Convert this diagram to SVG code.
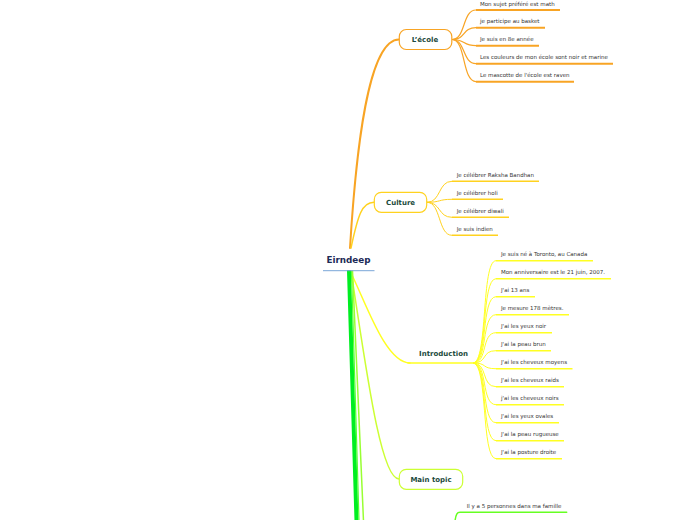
<svg xmlns="http://www.w3.org/2000/svg" width="696" height="520" viewBox="0 0 696 520">
<style>
.t{font-family:"DejaVu Sans",Verdana,sans-serif;font-size:5.5px;fill:#333}
.n{font-family:"DejaVu Sans",Verdana,sans-serif;font-size:7px;font-weight:bold;fill:#1b4a3c;text-anchor:middle}
.r{font-family:"DejaVu Sans",Verdana,sans-serif;font-size:8.8px;font-weight:bold;fill:#1d2b57;text-anchor:middle}
.c{fill:none;stroke-linecap:round}
.or{stroke:#f8a424}
.go{stroke:#ffd21f}
.ye{stroke:#ffff22}
.gr{stroke:#66ff22}
.box{fill:#fff;stroke-width:1.2}
</style>
<rect width="696" height="520" fill="#fff"/>
<g id="connectors">
<path class="c or" d="M350,248 C356,150 368,39.5 399,39.5" stroke-width="2"/>
<path class="c go" d="M351,248 C358,215 362,202.3 374,202.3" stroke-width="1.5"/>
<path class="c ye" d="M350,271 C365,300 385,363 410,363" stroke-width="1.5"/>
<path class="c" stroke="#ccff33" d="M351,271 C365,360 380,479 399,479" stroke-width="1.5"/>
<path class="c" stroke="#00ee22" d="M349,271 L356.5,521" stroke-width="4"/>
<path class="c" stroke="#55ff33" d="M351.5,271 L359,521" stroke-width="1.2"/>
<path class="c" stroke="#99ff33" d="M352.5,271 C356,360 360,440 363.5,521" stroke-width="1.5"/>
<path class="c gr" d="M455,521 C456,514 457,512.3 460,512.3 L566.7,512.3" stroke-width="1.5"/>
<!-- L'école children -->
<g class="or" fill="none" stroke-width="1.2">
<path d="M452,39.5 C466,39.5 462,10 476,10"/>
<path d="M452,39.5 C466,39.5 462,27.7 476,27.7"/>
<path d="M452,39.5 C466,39.5 462,45.7 476,45.7"/>
<path d="M452,39.5 C466,39.5 462,63.7 476,63.7"/>
<path d="M452,39.5 C466,39.5 462,81.7 476,81.7"/>
</g>
<g class="or" fill="none" stroke-width="2">
<path d="M476,10 L560,10"/>
<path d="M476,27.7 L545,27.7"/>
<path d="M476,45.7 L539,45.7"/>
<path d="M476,63.7 L613,63.7"/>
<path d="M476,81.7 L574,81.7"/>
</g>
<!-- Culture children -->
<g class="go" fill="none" stroke-width="1">
<path d="M427,202.3 C441,202.3 438,181.3 452,181.3"/>
<path d="M427,202.3 C441,202.3 438,199.3 452,199.3"/>
<path d="M427,202.3 C441,202.3 438,217.3 452,217.3"/>
<path d="M427,202.3 C441,202.3 438,235.3 452,235.3"/>
</g>
<g class="go" fill="none" stroke-width="1.6">
<path d="M452,181.3 L539,181.3"/>
<path d="M452,199.3 L503,199.3"/>
<path d="M452,217.3 L509,217.3"/>
<path d="M452,235.3 L498,235.3"/>
</g>
<!-- Introduction -->
<path class="c ye" d="M408,363 L473,363" stroke-width="1.6"/>
<g class="ye" fill="none" stroke-width="1">
<path d="M473,363 C488,363 481,260.7 496,260.7"/>
<path d="M473,363 C488,363 481,278.7 496,278.7"/>
<path d="M473,363 C488,363 481,296.7 496,296.7"/>
<path d="M473,363 C488,363 481,314.7 496,314.7"/>
<path d="M473,363 C488,363 481,332.7 496,332.7"/>
<path d="M473,363 C488,363 481,350.7 496,350.7"/>
<path d="M473,363 C488,363 481,368.7 496,368.7"/>
<path d="M473,363 C488,363 481,386.7 496,386.7"/>
<path d="M473,363 C488,363 481,404.7 496,404.7"/>
<path d="M473,363 C488,363 481,422.7 496,422.7"/>
<path d="M473,363 C488,363 481,440.7 496,440.7"/>
<path d="M473,363 C488,363 481,458.7 496,458.7"/>
</g>
<g class="ye" fill="none" stroke-width="1.6">
<path d="M496,260.7 L593,260.7"/>
<path d="M496,278.7 L611,278.7"/>
<path d="M496,296.7 L535,296.7"/>
<path d="M496,314.7 L569,314.7"/>
<path d="M496,332.7 L552,332.7"/>
<path d="M496,350.7 L551,350.7"/>
<path d="M496,368.7 L572.5,368.7"/>
<path d="M496,386.7 L564,386.7"/>
<path d="M496,404.7 L564,404.7"/>
<path d="M496,422.7 L559,422.7"/>
<path d="M496,440.7 L564,440.7"/>
<path d="M496,458.7 L562,458.7"/>
</g>
</g>
<g id="root">
<rect x="323" y="250" width="52" height="20" fill="#fff"/>
<text class="r" x="348.5" y="263.2">Eirndeep</text>
<line x1="323" y1="270.7" x2="374.5" y2="270.7" stroke="#7aa7d8" stroke-width="1"/>
</g>
<g id="ecole">
<rect class="box" x="399.3" y="29.5" width="52.5" height="20" rx="7" stroke="#f8a424"/>
<text class="n" x="425" y="41.8">L’école</text>
</g>
<g id="ecole-children">
<text class="t" x="480" y="5.5">Mon sujet préféré est math</text>
<text class="t" x="480" y="23.2">je participe au basket</text>
<text class="t" x="480" y="41.2">Je suis en 8e année</text>
<text class="t" x="480" y="59.2">Les couleurs de mon école sont noir et marine</text>
<text class="t" x="480" y="77.2">Le mascotte de l'école est raven</text>
</g>
<g id="culture">
<rect class="box" x="374.3" y="192.3" width="52.4" height="20" rx="7" stroke="#ffd21f"/>
<text class="n" x="400.6" y="204.8">Culture</text>
</g>
<g id="culture-children">
<text class="t" x="456.7" y="176.8">Je célébrer Raksha Bandhan</text>
<text class="t" x="456.7" y="194.8">Je célébrer holi</text>
<text class="t" x="456.7" y="212.8">Je célébrer diwali</text>
<text class="t" x="456.7" y="230.8">Je suis indien</text>
</g>
<g id="introduction">
<text class="n" x="443.5" y="355.8">Introduction</text>
</g>
<g id="introduction-children">
<text class="t" x="501" y="256.2">Je suis né à Toronto, au Canada</text>
<text class="t" x="501" y="274.2">Mon anniversaire est le 21 juin, 2007.</text>
<text class="t" x="501" y="292.2">J'ai 13 ans</text>
<text class="t" x="501" y="310.2">Je mesure 178 mètres.</text>
<text class="t" x="501" y="328.2">J'ai les yeux noir</text>
<text class="t" x="501" y="346.2">J'ai la peau brun</text>
<text class="t" x="501" y="364.2">J'ai les cheveux moyens</text>
<text class="t" x="501" y="382.2">J'ai les cheveux raids</text>
<text class="t" x="501" y="400.2">j'ai les cheveux noirs</text>
<text class="t" x="501" y="418.2">J'ai les yeux ovales</text>
<text class="t" x="501" y="436.2">J'ai la peau rugueuse</text>
<text class="t" x="501" y="454.2">J'ai la posture droite</text>
</g>
<g id="main-topic">
<rect class="box" x="399.3" y="469.3" width="63.4" height="20" rx="7" stroke="#ccff33"/>
<text class="n" x="431" y="481.8">Main topic</text>
</g>
<g id="famille">
<text class="t" x="466.7" y="507.8">Il y a 5 personnes dans ma famille</text>
</g>
</svg>
